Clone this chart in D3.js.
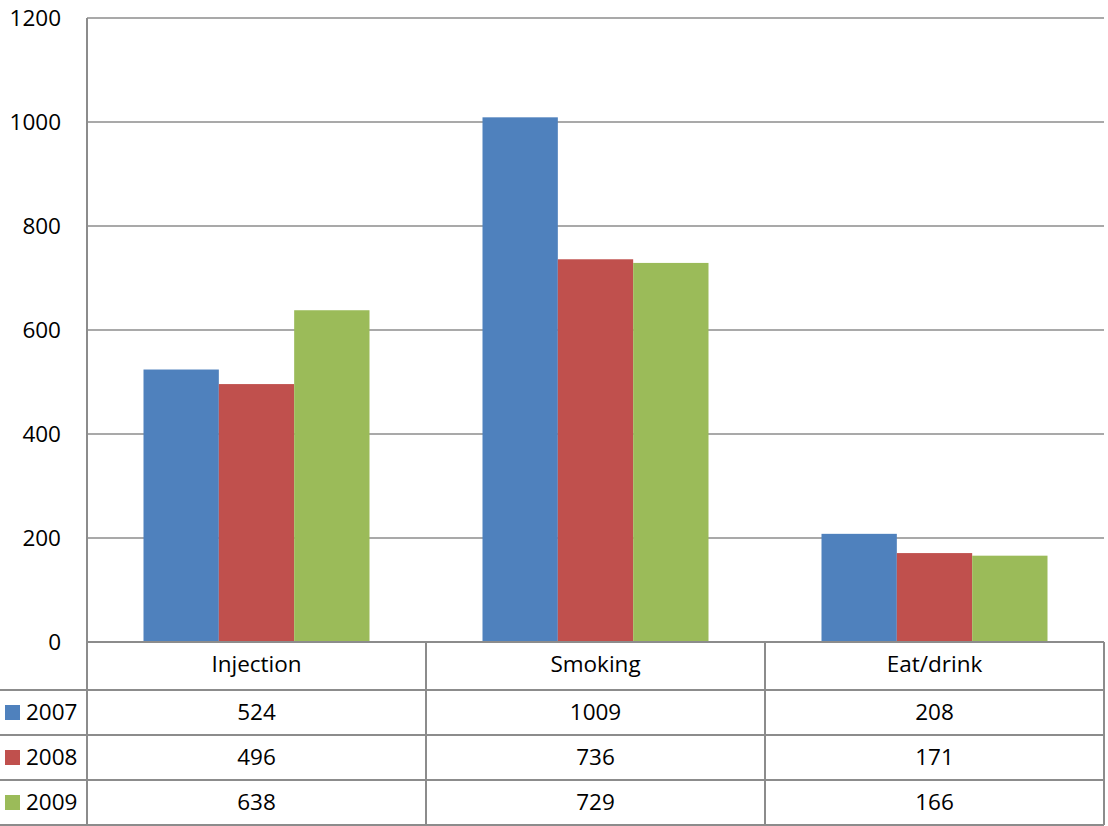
<!DOCTYPE html>
<html>
<head>
<meta charset="utf-8">
<script src="https://cdn.jsdelivr.net/npm/d3@7"></script>
<style>
  html, body { margin: 0; padding: 0; background: #fff; }
  svg { display: block; font-family: "Open Sans", sans-serif; }
</style>
</head>
<body>
<svg id="chart" width="1108" height="826"></svg>
<script>
// Drug use by route of administration, 2007–2009
const categories = ["Injection", "Smoking", "Eat/drink"];
const seriesNames = ["2007", "2008", "2009"];
const values2007 = [524, 1009, 208];
const values2008 = [496, 736, 171];
const values2009 = [638, 729, 166];
const yTicks = [0, 200, 400, 600, 800, 1000, 1200];
const colors = ["#4F81BD", "#C0504D", "#9BBB59"];

const seriesValues = [values2007, values2008, values2009];

const svg = d3.select("#chart");
const plotLeft = 87, plotRight = 1104, plotTop = 18, plotBase = 642;
const rowH = [48, 45, 45, 45]; // header row + one row per series
const gridColor = "#8c8c8c";
const fontSize = 22.5;

const x = d3.scaleBand().domain(categories).range([plotLeft, plotRight]).padding(0);
const xs = d3.scaleBand().domain(seriesNames).range([0, x.bandwidth()])
  .paddingInner(0).paddingOuter(0.75);
const y = d3.scaleLinear().domain([0, 1200]).range([plotBase, plotTop]);

// gridlines
svg.append("g").selectAll("line").data(yTicks.filter(t => t > 0)).join("line")
  .attr("x1", plotLeft).attr("x2", plotRight)
  .attr("y1", d => y(d)).attr("y2", d => y(d))
  .attr("stroke", gridColor).attr("stroke-width", 1.6);

// y-axis labels
const yAxis = d3.axisLeft(y).tickValues(yTicks).tickSize(0).tickPadding(26)
  .tickFormat(d3.format("d"));
const yg = svg.append("g").attr("transform", `translate(${plotLeft},0)`).call(yAxis);
yg.select(".domain").remove();
yg.selectAll("text").attr("font-size", fontSize).attr("fill", "#000")
  .attr("font-family", "'Open Sans', sans-serif");

// bars
const groups = svg.append("g").selectAll("g").data(categories).join("g")
  .attr("transform", d => `translate(${x(d)},0)`);
groups.selectAll("rect")
  .data((c, ci) => seriesNames.map((s, si) => ({ s, si, v: seriesValues[si][ci] })))
  .join("rect")
  .attr("x", d => xs(d.s))
  .attr("width", xs.bandwidth())
  .attr("y", d => y(d.v))
  .attr("height", d => plotBase - y(d.v))
  .attr("fill", d => colors[d.si]);

// data table
const table = svg.append("g");
const rowTops = [plotBase];
rowH.forEach(h => rowTops.push(rowTops[rowTops.length - 1] + h));
const tableBottom = rowTops[rowTops.length - 1];

// horizontal rules
table.append("line").attr("x1", plotLeft).attr("x2", plotRight)
  .attr("y1", plotBase).attr("y2", plotBase).attr("stroke", gridColor).attr("stroke-width", 2);
rowTops.slice(1).forEach(yy => {
  table.append("line").attr("x1", 0).attr("x2", plotRight)
    .attr("y1", yy).attr("y2", yy).attr("stroke", gridColor).attr("stroke-width", 2);
});
// vertical rules
table.append("line").attr("x1", plotLeft).attr("x2", plotLeft)
  .attr("y1", plotTop).attr("y2", tableBottom).attr("stroke", gridColor).attr("stroke-width", 2);
categories.forEach(c => {
  const xx = x(c) + x.bandwidth();
  table.append("line").attr("x1", xx).attr("x2", xx)
    .attr("y1", plotBase).attr("y2", tableBottom).attr("stroke", gridColor).attr("stroke-width", 2);
});

// category header
table.selectAll("text.cat").data(categories).join("text")
  .attr("class", "cat")
  .attr("x", d => x(d) + x.bandwidth() / 2)
  .attr("y", (rowTops[0] + rowTops[1]) / 2 - 2)
  .attr("dy", "0.35em")
  .attr("text-anchor", "middle")
  .attr("font-size", fontSize)
  .text(d => d);

// series rows
seriesNames.forEach((s, si) => {
  const cy = (rowTops[si + 1] + rowTops[si + 2]) / 2;
  table.append("rect").attr("x", 5).attr("y", cy - 7.5)
    .attr("width", 15).attr("height", 15).attr("fill", colors[si]);
  table.append("text").attr("x", 26).attr("y", cy).attr("dy", "0.35em")
    .attr("font-size", fontSize).text(s);
  categories.forEach((c, ci) => {
    table.append("text")
      .attr("x", x(c) + x.bandwidth() / 2)
      .attr("y", cy).attr("dy", "0.35em")
      .attr("text-anchor", "middle")
      .attr("font-size", fontSize)
      .text(seriesValues[si][ci]);
  });
});
</script>
</body>
</html>
